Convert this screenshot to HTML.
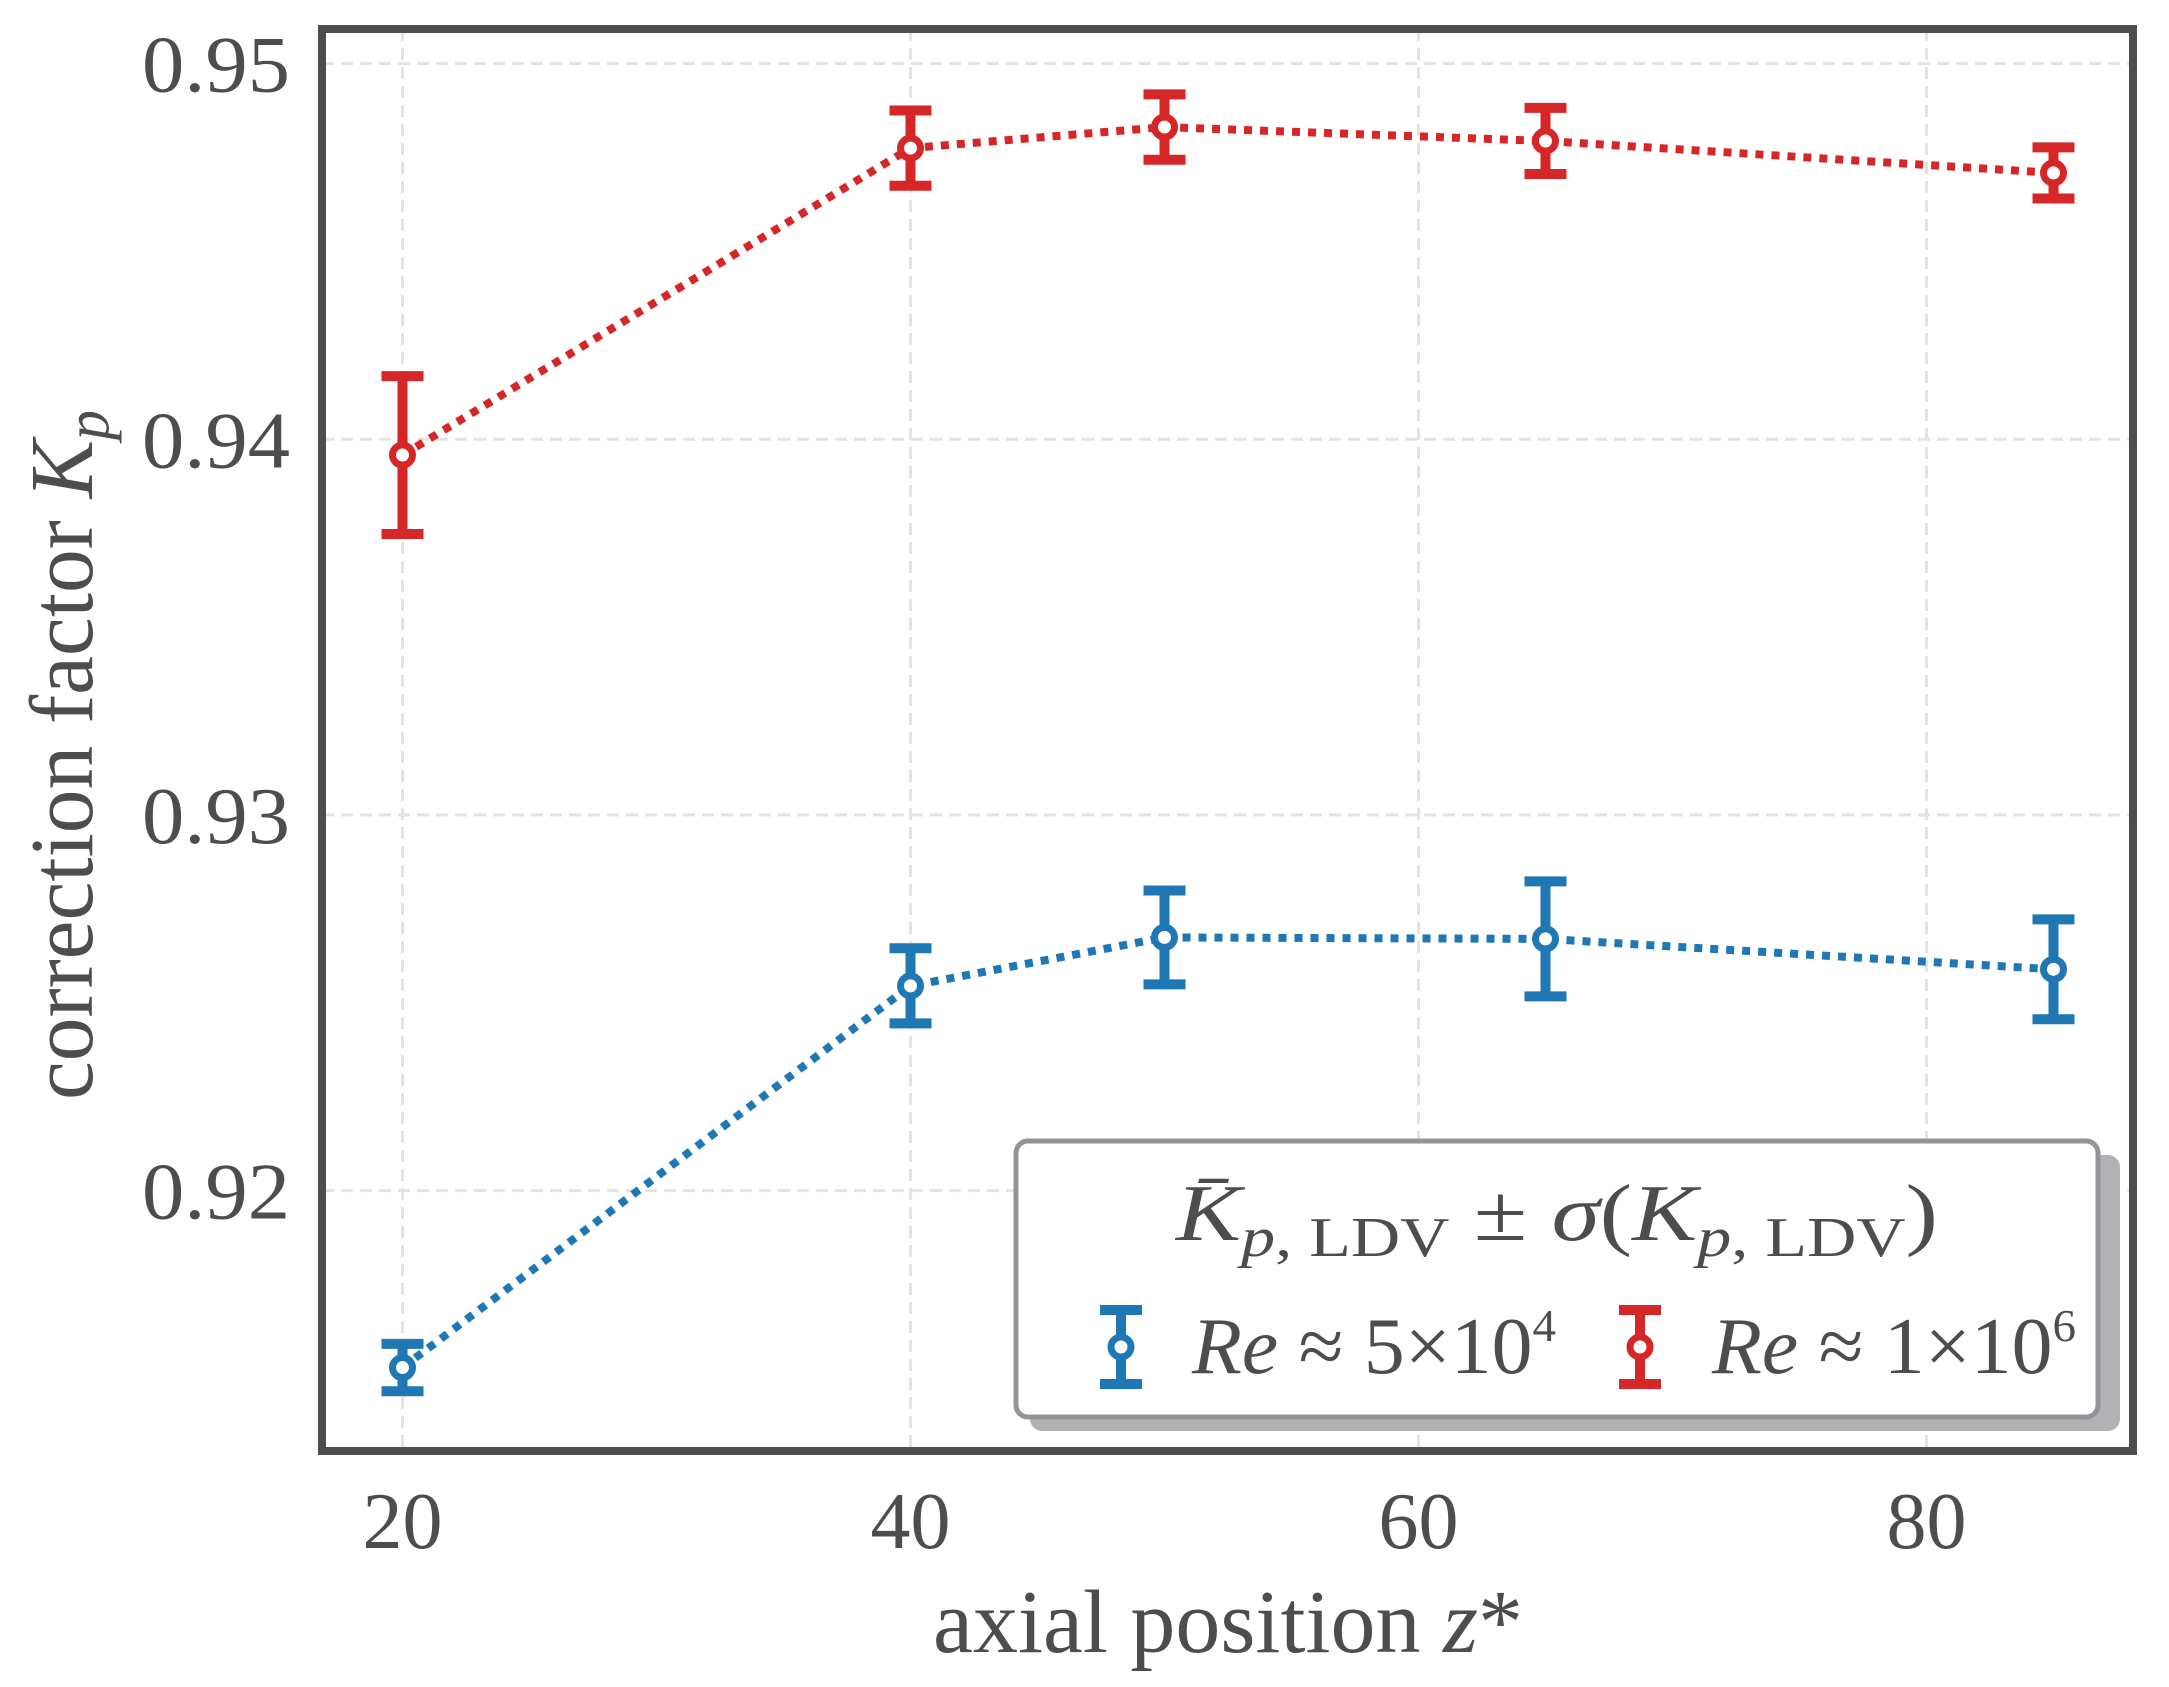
<!DOCTYPE html>
<html><head><meta charset="utf-8"><style>
html,body{margin:0;padding:0;background:#fff;}
svg text{font-family:"Liberation Serif",serif;fill:#4d4d4d;}
</style></head><body>
<svg width="2169" height="1682" viewBox="0 0 2169 1682" xmlns="http://www.w3.org/2000/svg" id="chart">
<g id="grid"></g>
<g id="series"></g>
<rect x="322" y="29" width="1811" height="1422" fill="none" stroke="#4d4d4f" stroke-width="8"/>
<g id="ticks"></g>
<text x="1228" y="1652" font-size="90" text-anchor="middle" textLength="590" lengthAdjust="spacingAndGlyphs">axial position <tspan font-style="italic">z</tspan>*</text>
<text transform="translate(92,755) rotate(-90)" font-size="90" text-anchor="middle" textLength="690" lengthAdjust="spacingAndGlyphs">correction factor <tspan font-style="italic">K</tspan><tspan font-style="italic" font-size="62" dy="16">p</tspan></text>
<g>
<rect x="1030" y="1155" width="1090" height="276" rx="12" fill="#b2b2b4"/>
<rect x="1016" y="1141" width="1082" height="276" rx="12" fill="#fff" stroke="#949498" stroke-width="5"/>
<text x="1557" y="1240" font-size="80" text-anchor="middle" textLength="762" lengthAdjust="spacingAndGlyphs"><tspan font-style="italic">K̄</tspan><tspan font-style="italic" font-size="56" dy="16">p</tspan><tspan font-size="56">, LDV</tspan><tspan dy="-16"> ± </tspan><tspan font-style="italic">σ</tspan>(<tspan font-style="italic">K</tspan><tspan font-style="italic" font-size="56" dy="16">p</tspan><tspan font-size="56">, LDV</tspan><tspan dy="-16">)</tspan></text>
<g id="leg-items"></g>
<text x="1192" y="1373" font-size="80" textLength="364" lengthAdjust="spacingAndGlyphs"><tspan font-style="italic">Re</tspan> ≈ 5×10<tspan font-size="46" dy="-32">4</tspan></text>
<text x="1712" y="1373" font-size="80" textLength="364" lengthAdjust="spacingAndGlyphs"><tspan font-style="italic">Re</tspan> ≈ 1×10<tspan font-size="46" dy="-32">6</tspan></text>
</g>
</svg>
<script>
const xs = [20, 40, 50, 65, 85];
const blueY = [0.91529, 0.92545, 0.92674, 0.9267, 0.92589];
const blueErr = [0.00063, 0.001, 0.00125, 0.00153, 0.00133];
const redY = [0.93958, 0.94775, 0.94831, 0.94794, 0.94709];
const redErr = [0.0021, 0.001, 0.00087, 0.00088, 0.00068];
const xTicks = [20, 40, 60, 80];
const yTicks = [0.92, 0.93, 0.94, 0.95];
const yTickLabels = ["0.92", "0.93", "0.94", "0.95"];

const NS = "http://www.w3.org/2000/svg";
const X = v => 402.5 + (v - 20) * 25.4;
const Y = v => 63.6 - (v - 0.95) * 37567;
function mk(tag, attrs, parent){const e=document.createElementNS(NS,tag);for(const k in attrs)e.setAttribute(k,attrs[k]);parent.appendChild(e);return e;}
const grid=document.getElementById('grid'), ticks=document.getElementById('ticks'), ser=document.getElementById('series');
xTicks.forEach(t=>{
  const l=mk('line',{x1:X(t),x2:X(t),y1:29,y2:1451,stroke:'#e3e3e3','stroke-width':3,'stroke-dasharray':'12,7'},grid);
  
  
  const tx=mk('text',{x:X(t),y:1548,'font-size':80,'text-anchor':'middle',textLength:80,lengthAdjust:'spacingAndGlyphs'},ticks);
  tx.textContent=t;
  
  
});
yTicks.forEach((t,i)=>{
  const l=mk('line',{x1:322,x2:2133,y1:Y(t),y2:Y(t),stroke:'#e3e3e3','stroke-width':3,'stroke-dasharray':'12,7'},grid);
  
  
  const tx=mk('text',{x:290,y:Y(t)+28,'font-size':80,'text-anchor':'end',textLength:148,lengthAdjust:'spacingAndGlyphs'},ticks);
  tx.textContent=yTickLabels[i];
  
  
});
function drawSeries(ys, errs, color, name){
  const pts=xs.map((x,i)=>X(x)+','+Y(ys[i])).join(' ');
  const pl=mk('polyline',{points:pts,fill:'none',stroke:color,'stroke-width':8,'stroke-dasharray':'8,8'},ser);
  
  
  xs.forEach((x,i)=>{
    const cx=X(x), t=Y(ys[i]+errs[i]), b=Y(ys[i]-errs[i]);
    const g=mk('g',{},ser);
    
    
    mk('line',{x1:cx,x2:cx,y1:t,y2:b,stroke:color,'stroke-width':10},g);
    mk('line',{x1:cx-21,x2:cx+21,y1:t,y2:t,stroke:color,'stroke-width':10},g);
    mk('line',{x1:cx-21,x2:cx+21,y1:b,y2:b,stroke:color,'stroke-width':10},g);
    mk('circle',{cx:cx,cy:Y(ys[i]),r:10,fill:'#fff',stroke:color,'stroke-width':7},g);
  });
}
drawSeries(blueY, blueErr, '#1f77b4', 'blue-series');
drawSeries(redY, redErr, '#d62728', 'red-series');
const li=document.getElementById('leg-items');
[[1121,'#1f77b4'],[1640,'#d62728']].forEach(([cx,c])=>{
  const g=mk('g',{},li);
  
  
  mk('line',{x1:cx,x2:cx,y1:1310,y2:1384,stroke:c,'stroke-width':10},g);
  mk('line',{x1:cx-21,x2:cx+21,y1:1310,y2:1310,stroke:c,'stroke-width':10},g);
  mk('line',{x1:cx-21,x2:cx+21,y1:1384,y2:1384,stroke:c,'stroke-width':10},g);
  mk('circle',{cx:cx,cy:1347,r:10,fill:'#fff',stroke:c,'stroke-width':7},g);
});
</script>
</body></html>
